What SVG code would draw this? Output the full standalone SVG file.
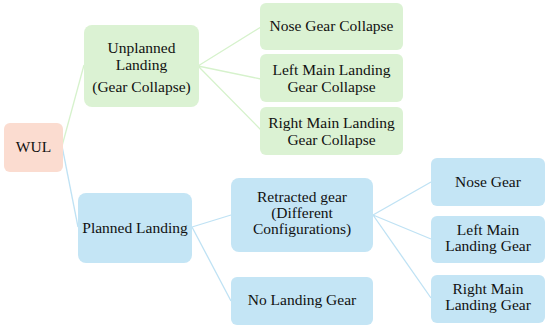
<svg xmlns="http://www.w3.org/2000/svg" width="550" height="328" viewBox="0 0 550 328">
<style>
.g{fill:#dbf2d3}
.b{fill:#c4e5f5}
.p{fill:#fbdcd0}
.lg{stroke:#d6f2cc;stroke-width:1.3;fill:none}
.lb{stroke:#bfe2f4;stroke-width:1.3;fill:none}
.t{font-family:Liberation Serif, DejaVu Serif, Noto Serif, serif;font-size:15.5px;fill:#111;text-anchor:middle}
</style>
<rect width="550" height="328" fill="#fff"/>
<g id="connectors">
<path class="lg" d="M62 146 L84 65"/>
<path class="lb" d="M62 146 L78 227"/>
<path class="lg" d="M198 66 L261 27 M198 66 L261 79 M198 66 L261 130"/>
<path class="lb" d="M192 227 L231 215 M192 227 L231 301"/>
<path class="lb" d="M373 215 L431 182 M373 215 L431 239 M373 215 L431 298"/>
</g>
<g class="t">
<g id="wul"><rect class="p" x="4" y="123" width="59" height="49" rx="6"/><text x="33.5" y="152">WUL</text></g>
<g id="unplanned"><rect class="g" x="84" y="25" width="115" height="82" rx="8"/><text x="141.5" y="53">Unplanned</text><text x="141.5" y="70">Landing</text><text x="141.5" y="92">(Gear Collapse)</text></g>
<g id="nose-collapse"><rect class="g" x="260" y="3" width="143" height="47" rx="6"/><text x="331.5" y="31">Nose Gear Collapse</text></g>
<g id="left-collapse"><rect class="g" x="260" y="54" width="143" height="48" rx="6"/><text x="331.5" y="75">Left Main Landing</text><text x="331.5" y="92">Gear Collapse</text></g>
<g id="right-collapse"><rect class="g" x="260" y="107" width="143" height="48" rx="6"/><text x="331.5" y="128">Right Main Landing</text><text x="331.5" y="145">Gear Collapse</text></g>
<g id="planned"><rect class="b" x="78" y="193" width="114" height="70" rx="8"/><text x="135" y="233">Planned Landing</text></g>
<g id="retracted"><rect class="b" x="231" y="178" width="142" height="74" rx="8"/><text x="302" y="202">Retracted gear</text><text x="302" y="218">(Different</text><text x="302" y="234">Configurations)</text></g>
<g id="no-gear"><rect class="b" x="231" y="277" width="142" height="48" rx="6"/><text x="302" y="305">No Landing Gear</text></g>
<g id="nose"><rect class="b" x="431" y="158" width="114" height="48" rx="6"/><text x="488" y="187">Nose Gear</text></g>
<g id="left"><rect class="b" x="431" y="216" width="114" height="47" rx="6"/><text x="488" y="235">Left Main</text><text x="488" y="251">Landing Gear</text></g>
<g id="right"><rect class="b" x="431" y="275" width="114" height="48" rx="6"/><text x="488" y="294">Right Main</text><text x="488" y="310">Landing Gear</text></g>
</g>
</svg>
